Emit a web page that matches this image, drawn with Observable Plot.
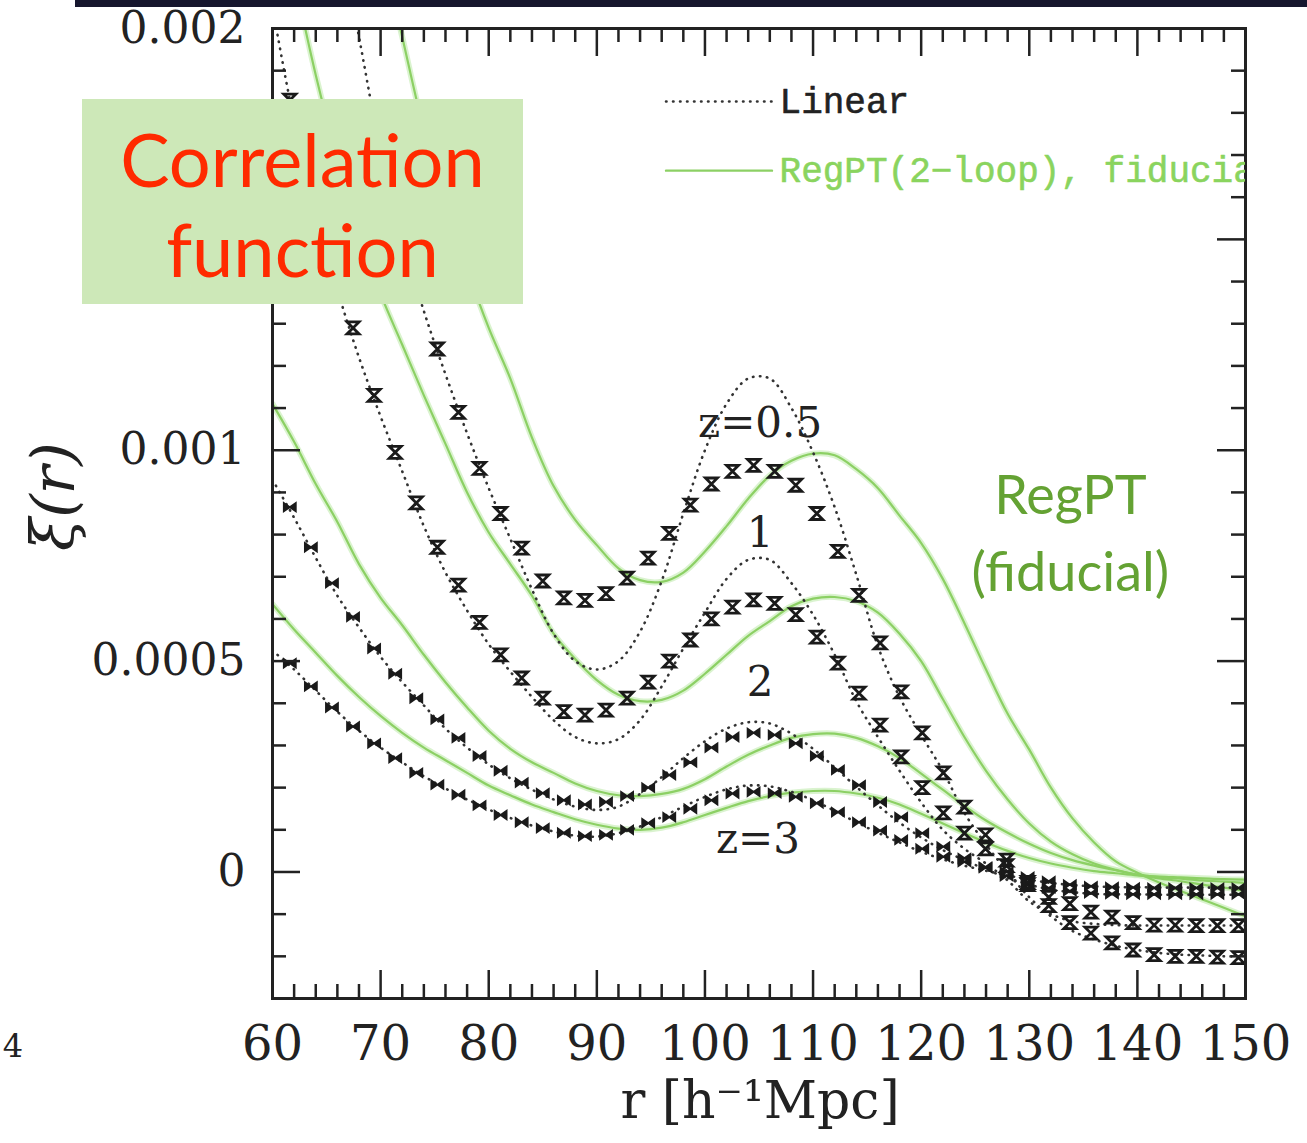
<!DOCTYPE html>
<html><head><meta charset="utf-8">
<script src="https://cdn.jsdelivr.net/npm/d3@7"></script>
<script src="https://cdn.jsdelivr.net/npm/@observablehq/plot@0.6"></script>
<style>
html,body{margin:0;padding:0;background:#fff;}
#wrap{position:relative;width:1307px;height:1143px;overflow:hidden;background:#fff;}
#wrap svg{position:absolute;left:0;top:0;}
#topbar{position:absolute;left:75px;top:0;width:1232px;height:7px;background:#16162e;}
#box{position:absolute;left:82px;top:99px;width:441px;height:205px;background:#cde8b8;box-sizing:border-box;padding-top:15px;
 font-family:Lato,"Open Sans",sans-serif;font-size:74px;line-height:90px;color:#ff2a00;text-align:center;}
</style></head>
<body><div id="wrap"><div id="topbar"></div></div>
<script>
// ---------- data (xi in units of 1e-4) ----------
const rCurve = [60,62,64,66,68,70,72,74,76,78,80,82,84,86,88,90,92,94,96,98,100,102,104,106,108,110,112,114,116,118,120,122,124,126,128,130,132,134,136,138,140,142,144,146,148,150];

const linear05 = [31,28,25.2,22.5,19.8,17.1,15.0,13.3,11.8,10.4,9.1,7.9,6.7,5.65,5.0,4.8,5.0,5.7,6.9,8.5,10.0,11.1,11.7,11.7,11.0,9.95,8.65,7.05,5.35,4.15,3.25,2.4,1.4,0.65,0.0,-0.6,-1.05,-1.4,-1.6,-1.75,-1.85,-1.92,-1.96,-1.98,-2.0,-2.0];
const linear1  = [20.5,17.8,15.6,13.8,12.2,10.8,9.5,8.2,7.1,6.2,5.4,4.75,4.15,3.6,3.2,3.05,3.15,3.6,4.4,5.3,6.15,6.95,7.4,7.4,6.85,6.1,5.15,4.05,3.2,2.4,1.65,1.0,0.55,0.2,-0.2,-0.7,-1.0,-1.17,-1.23,-1.26,-1.27,-1.27,-1.27,-1.27,-1.27,-1.27];
const linear2  = [9.3,8.4,7.45,6.55,5.8,5.1,4.5,3.95,3.4,2.95,2.55,2.22,1.95,1.72,1.55,1.47,1.55,1.85,2.25,2.7,3.1,3.4,3.55,3.52,3.28,2.92,2.48,2.02,1.58,1.17,0.82,0.52,0.28,0.06,-0.14,-0.3,-0.42,-0.48,-0.52,-0.53,-0.53,-0.54,-0.54,-0.54,-0.54,-0.54];
const linear3  = [5.25,4.8,4.3,3.8,3.35,2.95,2.6,2.27,1.98,1.72,1.48,1.28,1.1,0.96,0.86,0.84,0.92,1.08,1.3,1.55,1.78,1.96,2.05,2.03,1.9,1.7,1.45,1.18,0.93,0.7,0.48,0.3,0.15,0.03,-0.08,-0.18,-0.26,-0.31,-0.34,-0.36,-0.36,-0.37,-0.37,-0.37,-0.37,-0.37];

const regpt05 = [34,31.5,29,26.6,24.3,22.0,19.8,17.6,15.9,14.3,12.9,11.7,10.3,9.15,8.35,7.75,7.2,6.92,6.88,7.1,7.6,8.2,8.85,9.4,9.75,9.92,9.88,9.55,9.1,8.45,7.8,6.95,5.9,4.8,3.75,2.9,2.0,1.27,0.7,0.25,-0.02,-0.25,-0.45,-0.65,-0.85,-1.05];
const regpt1  = [23.5,21.2,18.9,16.9,15.1,13.7,12.5,11.3,10.15,9.0,8.05,7.3,6.55,5.65,5.05,4.55,4.2,4.05,4.08,4.3,4.7,5.15,5.6,5.95,6.3,6.48,6.52,6.42,6.15,5.65,5.0,4.1,3.2,2.4,1.72,1.15,0.72,0.42,0.2,0.05,-0.07,-0.15,-0.22,-0.3,-0.37,-0.45];
const regpt2  = [11.1,10.2,9.2,8.3,7.3,6.5,5.85,5.15,4.5,3.9,3.35,2.92,2.6,2.35,2.1,1.92,1.82,1.8,1.85,1.97,2.2,2.5,2.78,3.0,3.18,3.27,3.28,3.18,2.98,2.7,2.33,1.95,1.57,1.22,0.93,0.67,0.45,0.28,0.15,0.04,-0.06,-0.12,-0.16,-0.2,-0.23,-0.26];
const regpt3  = [6.35,5.75,5.2,4.65,4.15,3.7,3.3,2.95,2.65,2.35,2.05,1.82,1.6,1.42,1.25,1.12,1.03,1.0,1.05,1.18,1.35,1.52,1.68,1.8,1.88,1.92,1.92,1.86,1.76,1.6,1.38,1.15,0.92,0.7,0.5,0.33,0.2,0.1,0.02,-0.03,-0.08,-0.11,-0.13,-0.15,-0.17,-0.18];

const rNbody = [61.6,63.55,65.5,67.45,69.4,71.35,73.3,75.25,77.2,79.15,81.1,83.05,85.0,86.95,88.9,90.85,92.8,94.75,96.7,98.65,100.6,102.55,104.5,106.45,108.4,110.35,112.3,114.25,116.2,118.15,120.1,122.05,124.0,125.95,127.9,129.85,131.8,133.75,135.7,137.65,139.6,141.55,143.5,145.45,147.4,149.35];
const nbody05 = [null,null,null,null,17.6,15.7,14.0,12.4,10.9,9.57,8.5,7.68,6.9,6.5,6.44,6.6,6.97,7.44,8.03,8.7,9.2,9.5,9.64,9.5,9.17,8.5,7.6,6.56,5.43,4.27,3.3,2.35,1.54,0.88,0.28,-0.3,-0.8,-1.2,-1.45,-1.68,-1.85,-1.96,-2.0,-2.0,-2.02,-2.03];
const nbody1  = [18.3,16.5,14.7,12.9,11.3,9.95,8.75,7.7,6.8,5.92,5.15,4.6,4.12,3.8,3.72,3.84,4.12,4.5,5.0,5.5,6.0,6.28,6.45,6.37,6.1,5.57,4.95,4.24,3.48,2.73,2.0,1.4,0.92,0.55,0.15,-0.25,-0.6,-0.75,-0.95,-1.07,-1.2,-1.26,-1.26,-1.27,-1.27,-1.27];
const nbody2  = [8.65,7.7,6.85,6.05,5.3,4.7,4.12,3.62,3.18,2.75,2.4,2.12,1.87,1.7,1.6,1.66,1.8,2.0,2.3,2.6,2.95,3.2,3.3,3.25,3.05,2.75,2.42,2.06,1.66,1.3,0.92,0.6,0.33,0.1,-0.1,-0.25,-0.38,-0.45,-0.5,-0.52,-0.53,-0.53,-0.53,-0.53,-0.53,-0.53];
const nbody3  = [4.95,4.4,3.9,3.45,3.05,2.7,2.35,2.07,1.83,1.58,1.35,1.18,1.04,0.93,0.85,0.88,1.0,1.16,1.3,1.5,1.7,1.86,1.9,1.87,1.78,1.63,1.42,1.18,0.98,0.76,0.55,0.36,0.24,0.12,0.0,-0.12,-0.22,-0.3,-0.34,-0.36,-0.37,-0.38,-0.38,-0.38,-0.38,-0.38];

const redshifts = ["0.5","1","2","3"];
const zLabels = ["z=0.5","1","2","z=3"];
const zLabelR = [105.1,105.1,105.1,104.9];
const zLabelXi = [10.64,8.03,4.48,0.76];

const xMajor = [60,70,80,90,100,110,120,130,140,150];
const yMajor = [0,5,10,15,20];
const yLabelTicks = [0,5,10,20];            // 0.0015 is hidden under the overlay box
const yTickLabels = ["0","0.0005","0.001","0.002"];
const legendLabels = ["Linear","RegPT(2\u2212loop), fiducial"];
const legendXi = [18.27,16.63];
const legendR = [96.4,106.2,106.9];
const regLabel = "RegPT\n(fiducial)";
const regLabelPos = [133.8, 8.15];
const pageNumber = "4";
const pageNumberPos = [36.0, -4.15];

// ---------- tables ----------
const curveTable = (arrs) => arrs.flatMap((vals,i) => vals.map((v,j) => ({r: rCurve[j], v, z: redshifts[i]})));
const linTable = curveTable([linear05,linear1,linear2,linear3]);
const regTable = curveTable([regpt05,regpt1,regpt2,regpt3]);
const nbTable = [nbody05,nbody1,nbody2,nbody3].flatMap((vals,i) => vals.map((v,j) => ({r: rNbody[j], v, z: redshifts[i]})).filter(d => d.v !== null));
const nbHigh = nbTable.filter(d => d.z === "0.5" || d.z === "1");
const nbLow = nbTable.filter(d => d.z === "2" || d.z === "3");

const xMinor = d3.range(62,150,2).filter(d => d % 10 !== 0);
const yMinor = d3.range(-2,20,1).filter(d => d % 5 !== 0);
const yDom = [-3,20], xDom = [60,150];
const pxY = (yDom[1]-yDom[0]) / (1143-28-145);
const pxX = (xDom[1]-xDom[0]) / (1307-272-62);
const minorLen = 14, majorLen = 28;

const hourglass = {draw(ctx,size){const s=Math.sqrt(size/Math.PI);ctx.moveTo(-s,-s);ctx.lineTo(s,-s);ctx.lineTo(-s,s);ctx.lineTo(s,s);ctx.closePath();}};
const bowtie = {draw(ctx,size){const s=Math.sqrt(size/Math.PI);const h=s*0.7;ctx.moveTo(-s,-h);ctx.lineTo(-s,h);ctx.lineTo(s,-h);ctx.lineTo(s,h);ctx.closePath();}};

const green = "#8cd064";
const tickStyle = {stroke:"#222", strokeWidth:2.5};

const chart = Plot.plot({
  width:1307, height:1143,
  marginLeft:272, marginRight:62, marginTop:28, marginBottom:145,
  x:{domain:xDom}, y:{domain:yDom},
  style:{fontFamily:"DejaVu Serif", color:"#222", background:"transparent", overflow:"visible"},
  marks:[
    Plot.line(regTable,{x:"r",y:"v",z:"z",stroke:"#cbeebb",strokeWidth:6,strokeOpacity:0.7,curve:"catmull-rom",clip:true}),
    Plot.line(regTable,{x:"r",y:"v",z:"z",stroke:green,strokeWidth:2.2,curve:"catmull-rom",clip:true}),
    Plot.line(linTable,{x:"r",y:"v",z:"z",stroke:"#333",strokeWidth:2.6,strokeDasharray:"0.5 6.5",strokeLinecap:"round",curve:"catmull-rom",clip:true}),
    Plot.dot(nbHigh,{x:"r",y:"v",symbol:hourglass,r:6,fill:"none",stroke:"#1a1a1a",strokeWidth:2.8,clip:true}),
    Plot.dot(nbLow,{x:"r",y:"v",symbol:bowtie,r:6,fill:"#1a1a1a",stroke:"#1a1a1a",strokeWidth:1.8,clip:true}),
    // frame & inward ticks
    Plot.frame({stroke:"#222",strokeWidth:3}),
    Plot.ruleX(xMinor,{y1:yDom[0],y2:yDom[0]+minorLen*pxY,...tickStyle}),
    Plot.ruleX(xMinor,{y1:yDom[1],y2:yDom[1]-minorLen*pxY,...tickStyle}),
    Plot.ruleX(xMajor,{y1:yDom[0],y2:yDom[0]+majorLen*pxY,...tickStyle}),
    Plot.ruleX(xMajor,{y1:yDom[1],y2:yDom[1]-majorLen*pxY,...tickStyle}),
    Plot.ruleY(yMinor,{x1:xDom[0],x2:xDom[0]+minorLen*pxX,...tickStyle}),
    Plot.ruleY(yMinor,{x1:xDom[1],x2:xDom[1]-minorLen*pxX,...tickStyle}),
    Plot.ruleY(yMajor,{x1:xDom[0],x2:xDom[0]+majorLen*pxX,...tickStyle}),
    Plot.ruleY(yMajor,{x1:xDom[1],x2:xDom[1]-majorLen*pxX,...tickStyle}),
    // axes
    Plot.axisX(xMajor,{anchor:"bottom",tickSize:0,tickPadding:27,fontSize:48,label:null,tickFormat:d=>String(d)}),
    Plot.axisY(yLabelTicks,{anchor:"left",tickSize:0,tickPadding:27,fontSize:44,label:null,tickFormat:(d)=>yTickLabels[yLabelTicks.indexOf(d)]}),
    Plot.text(["r [h\u207B\u00B9Mpc]"],{x:105.1,y:-5.45,fontSize:52,fill:"#222",textAnchor:"middle"}),
    Plot.text(["\u03BE(r)"],{x:39.9,y:8.9,rotate:-90,fontSize:60,fontStyle:"italic",fill:"#222",textAnchor:"middle"}),
    Plot.text([pageNumber],{x:pageNumberPos[0],y:pageNumberPos[1],fontSize:32,fill:"#222",textAnchor:"middle"}),
    // redshift labels
    Plot.text(zLabels,{x:(d,i)=>zLabelR[i],y:(d,i)=>zLabelXi[i],fontSize:42,fill:"#222",textAnchor:"middle"}),
    // legend
    Plot.line([{r:legendR[0],v:legendXi[0]},{r:legendR[1],v:legendXi[0]}],{x:"r",y:"v",stroke:"#333",strokeWidth:2.6,strokeDasharray:"0.5 6.5",strokeLinecap:"round"}),
    Plot.line([{r:legendR[0],v:legendXi[1]},{r:legendR[1],v:legendXi[1]}],{x:"r",y:"v",stroke:green,strokeWidth:2.4}),
    Plot.text([legendLabels[0]],{x:legendR[2],y:legendXi[0],textAnchor:"start",fontFamily:"Liberation Mono",fontSize:36,letterSpacing:-1.6,fill:"#222",stroke:"#222",strokeWidth:0.6}),
    Plot.text([legendLabels[1]],{x:legendR[2],y:legendXi[1],textAnchor:"start",fontFamily:"Liberation Mono",fontSize:36,letterSpacing:-1.6,fill:"#8ad45e",stroke:"#8ad45e",strokeWidth:0.6,clip:true}),
    Plot.text([regLabel],{x:regLabelPos[0],y:regLabelPos[1],fontFamily:"Lato",fontSize:54,lineHeight:1.42,fill:"#64a233",textAnchor:"middle"})
  ]
});
const wrap = document.getElementById("wrap");
wrap.insertBefore(chart, wrap.firstChild);
const box = document.createElement("div"); box.id="box"; box.innerHTML="Correlation<br>function"; wrap.appendChild(box);
</script></body></html>
